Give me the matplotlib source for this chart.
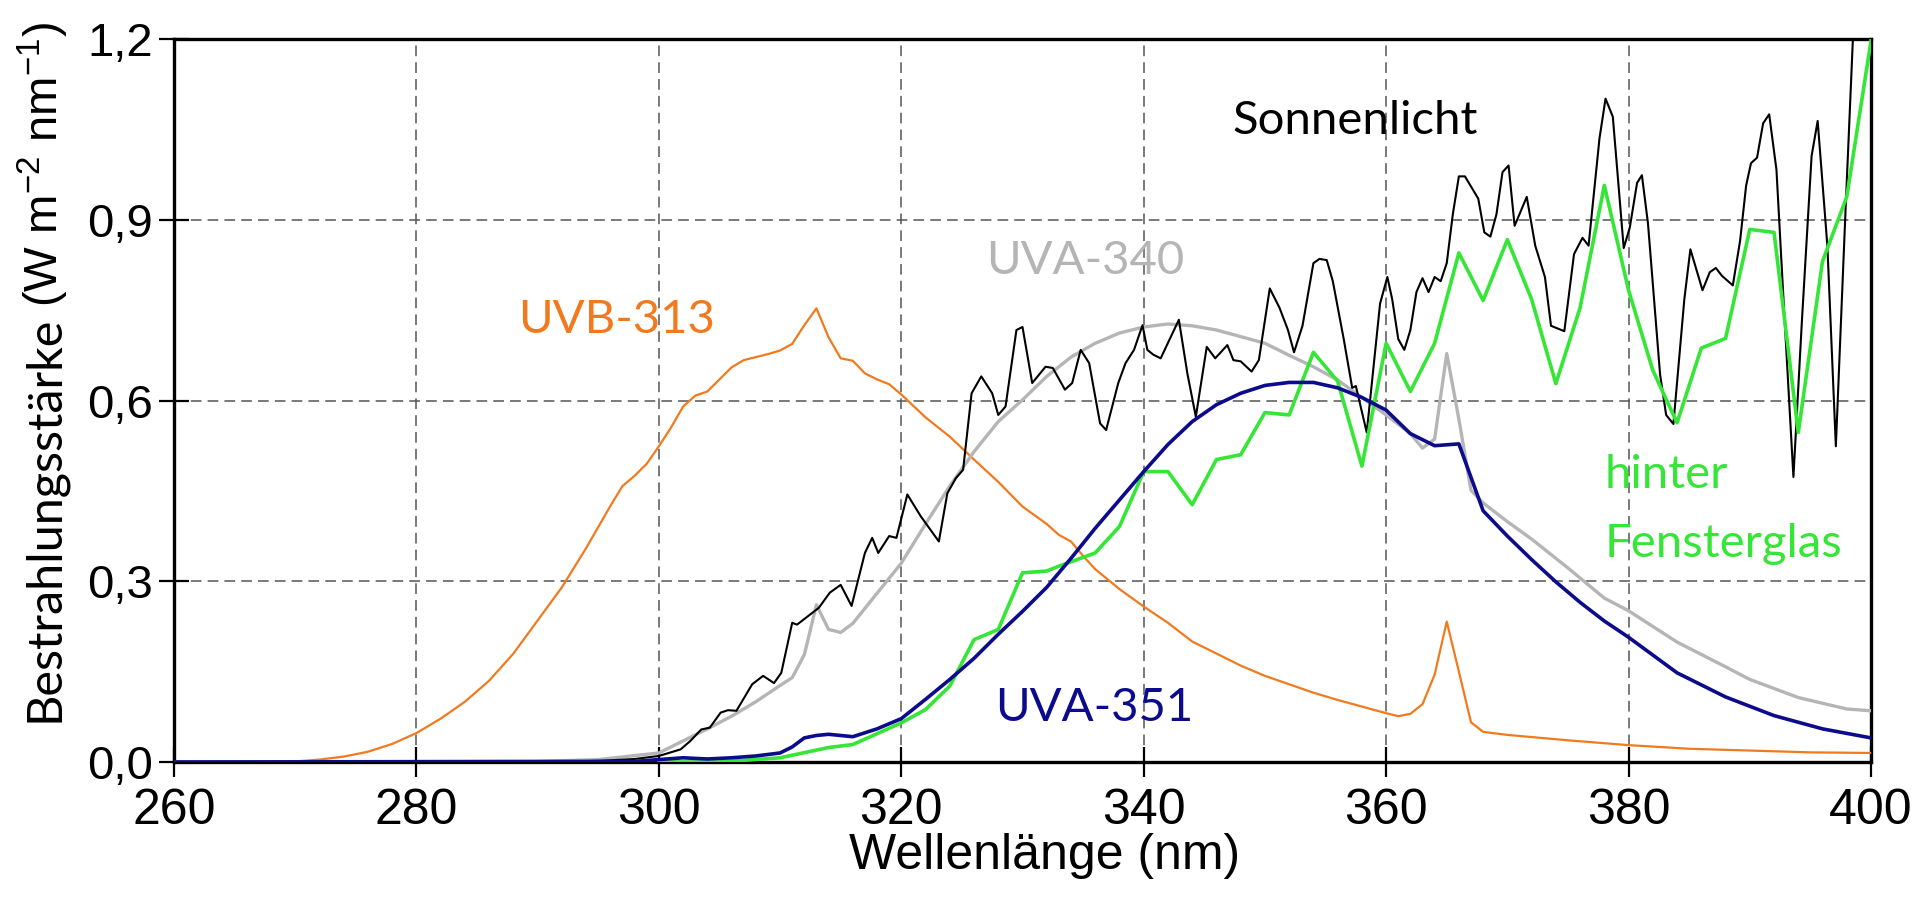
import numpy as np
import matplotlib
matplotlib.use("Agg")
import matplotlib.pyplot as plt

# Daten
uvb_x = [260, 268, 270, 272, 274, 276, 278, 280, 282, 284, 286, 288, 290, 292, 294, 296, 297, 298, 299, 300,
         301, 302, 303, 304, 305, 306, 307, 308, 309, 310, 311, 312, 313, 314, 315, 316, 317, 318, 319, 320,
         322, 324, 326, 328, 330, 332, 333, 334, 335, 336, 338, 340, 342, 344, 346, 348, 350, 352, 354, 356,
         358, 360, 361, 362, 363, 364, 365, 366, 367, 368, 370, 375, 380, 385, 390, 395, 400]
uvb_y = [0, 0, 0.001, 0.004, 0.009, 0.017, 0.03, 0.048, 0.072, 0.10, 0.135, 0.18, 0.235, 0.29, 0.355, 0.425, 0.458, 0.475, 0.495, 0.524,
         0.555, 0.59, 0.608, 0.615, 0.635, 0.655, 0.667, 0.672, 0.677, 0.683, 0.694, 0.725, 0.753, 0.705, 0.670, 0.666, 0.645, 0.635, 0.627, 0.61,
         0.572, 0.54, 0.502, 0.465, 0.424, 0.395, 0.377, 0.366, 0.342, 0.32, 0.287, 0.258, 0.231, 0.2, 0.18, 0.16, 0.143, 0.129, 0.115, 0.103,
         0.092, 0.081, 0.076, 0.080, 0.096, 0.145, 0.233, 0.15, 0.066, 0.05, 0.045, 0.036, 0.028, 0.022, 0.019, 0.016, 0.015]

uva340_x = [260, 290, 295, 300, 302, 304, 306, 308, 310, 311, 312, 313, 314, 315, 316, 318, 320, 322, 324, 326,
            328, 330, 332, 334, 336, 338, 340, 342, 344, 346, 348, 350, 352, 354, 356, 358, 360, 362, 363, 364,
            365, 366, 367, 368, 370, 372, 375, 378, 380, 384, 388, 390, 394, 398, 400]
uva340_y = [0, 0.001, 0.004, 0.015, 0.035, 0.055, 0.076, 0.10, 0.127, 0.14, 0.178, 0.261, 0.22, 0.215, 0.23, 0.28, 0.33, 0.395, 0.458, 0.515,
            0.565, 0.601, 0.64, 0.672, 0.695, 0.712, 0.722, 0.727, 0.724, 0.717, 0.706, 0.695, 0.675, 0.656, 0.634, 0.605, 0.576, 0.545, 0.521, 0.536,
            0.678, 0.569, 0.451, 0.43, 0.399, 0.37, 0.322, 0.272, 0.251, 0.199, 0.158, 0.137, 0.107, 0.088, 0.085]

uva351_x = [260, 298, 300, 302, 304, 306, 308, 310, 311, 312, 313, 314, 315, 316, 318, 320, 322, 324, 326, 328,
            330, 332, 334, 336, 338, 340, 342, 344, 346, 348, 350, 352, 354, 356, 358, 360, 362, 364, 366, 368,
            370, 372, 374, 376, 378, 380, 384, 388, 392, 396, 400]
uva351_y = [0, 0.001, 0.004, 0.007, 0.005, 0.007, 0.01, 0.015, 0.025, 0.04, 0.044, 0.046, 0.044, 0.042, 0.055, 0.072, 0.104, 0.137, 0.172, 0.212,
            0.25, 0.29, 0.338, 0.388, 0.435, 0.482, 0.527, 0.565, 0.593, 0.612, 0.625, 0.630, 0.630, 0.621, 0.605, 0.584, 0.545, 0.525, 0.528, 0.417,
            0.375, 0.336, 0.299, 0.265, 0.234, 0.207, 0.148, 0.108, 0.077, 0.055, 0.04]

glas_x = [300, 305, 310, 314, 316, 320, 322, 324, 326, 328, 330, 332, 333, 336, 338, 340, 342, 344, 346, 348,
          350, 352, 354, 356, 358, 360, 362, 364, 366, 368, 370, 372, 374, 376, 378, 380, 382, 384, 386, 388,
          390, 392, 394, 396, 398, 400]
glas_y = [0, 0.0, 0.007, 0.024, 0.029, 0.065, 0.087, 0.126, 0.203, 0.22, 0.314, 0.317, 0.325, 0.347, 0.391, 0.482, 0.482, 0.427, 0.502, 0.51,
          0.58, 0.576, 0.68, 0.632, 0.491, 0.695, 0.615, 0.695, 0.845, 0.766, 0.867, 0.768, 0.628, 0.754, 0.957, 0.783, 0.65, 0.563, 0.687, 0.703,
          0.884, 0.879, 0.547, 0.831, 0.938, 1.197]

sonne_x = [260, 290, 295.2, 298, 300, 301.8, 302.6, 303.5, 304.2, 305.1, 305.7, 306.4, 307.7, 308.6, 309.5, 310.1, 311.0, 311.4, 312.3, 313.2,
           314.1, 315.0, 315.9, 317.0, 317.6, 318.1, 319.0, 319.6, 320.5, 321.6, 323.1, 323.8, 324.5, 325.1, 325.8, 326.6, 327.5, 328.0, 328.6, 329.5,
           330.0, 330.8, 331.9, 332.5, 333.5, 334.1, 334.8, 335.5, 336.4, 336.9, 337.9, 338.5, 339.2, 339.9, 340.3, 340.8, 341.4, 342.9, 343.6, 344.3,
           345.2, 345.9, 346.9, 347.4, 348.0, 348.9, 349.5, 350.4, 351.2, 351.9, 352.4, 353.1, 354.0, 354.5, 355.1, 355.6, 356.5, 357.2, 357.5, 358.4,
           359.5, 360.1, 360.5, 361.0, 361.5, 362.0, 362.5, 363.0, 363.5, 364.0, 364.5, 365.0, 365.5, 366.0, 366.5, 367.6, 368.1, 368.6, 369.1, 369.6,
           370.1, 370.6, 371.6, 372.3, 373.1, 373.6, 374.7, 375.5, 376.2, 376.7, 377.6, 378.1, 378.7, 379.6, 380.1, 380.7, 381.1, 381.6, 382.6, 383.1,
           383.7, 384.6, 385.1, 386.1, 386.7, 387.2, 387.7, 388.6, 389.2, 389.7, 390.1, 390.6, 391.1, 391.6, 392.2, 392.9, 393.6, 394.3, 395.1, 395.6,
           396.4, 397.1, 397.9, 398.5, 399.0, 400]
sonne_y = [0, 0.0, 0.002, 0.005, 0.010, 0.021, 0.035, 0.054, 0.057, 0.082, 0.086, 0.085, 0.129, 0.143, 0.131, 0.148, 0.231, 0.228, 0.242, 0.256,
           0.281, 0.294, 0.259, 0.347, 0.372, 0.347, 0.375, 0.372, 0.444, 0.408, 0.366, 0.446, 0.471, 0.485, 0.612, 0.640, 0.612, 0.576, 0.590, 0.717,
           0.722, 0.629, 0.656, 0.654, 0.618, 0.629, 0.684, 0.662, 0.562, 0.551, 0.629, 0.662, 0.684, 0.725, 0.684, 0.676, 0.670, 0.734, 0.645, 0.573,
           0.689, 0.670, 0.692, 0.667, 0.665, 0.648, 0.667, 0.786, 0.754, 0.717, 0.680, 0.724, 0.828, 0.835, 0.833, 0.798, 0.702, 0.621, 0.624, 0.547,
           0.761, 0.805, 0.768, 0.702, 0.684, 0.717, 0.780, 0.803, 0.780, 0.805, 0.798, 0.828, 0.909, 0.972, 0.972, 0.935, 0.879, 0.872, 0.909, 0.979,
           0.990, 0.890, 0.938, 0.857, 0.805, 0.724, 0.715, 0.843, 0.870, 0.857, 1.035, 1.101, 1.071, 0.853, 0.887, 0.961, 0.974, 0.894, 0.643, 0.576,
           0.561, 0.768, 0.851, 0.783, 0.813, 0.820, 0.807, 0.791, 0.865, 0.957, 0.994, 1.003, 1.060, 1.075, 0.983, 0.724, 0.473, 0.732, 1.006, 1.064,
           0.857, 0.524, 0.916, 1.197, 1.35, 1.5]

xticks = [260, 280, 300, 320, 340, 360, 380, 400]
yticks = [0.0, 0.3, 0.6, 0.9, 1.2]
ytick_labels = ["0,0", "0,3", "0,6", "0,9", "1,2"]

c_orange = "#f27a1e"
c_grey = "#b5b5b5"
c_navy = "#0b0b8c"
c_green = "#36e636"

# Plot
fig = plt.figure(figsize=(19.2, 9.02), dpi=100)
ax = fig.add_axes([174 / 1920, 1 - 762 / 902, 1697 / 1920, 723 / 902])

ax.plot(uvb_x, uvb_y, color=c_orange, lw=1.6, zorder=3)
ax.plot(uva340_x, uva340_y, color=c_grey, lw=2.4, zorder=4)
ax.plot(sonne_x, sonne_y, color="black", lw=1.5, zorder=5)
ax.plot(glas_x, glas_y, color=c_green, lw=2.6, zorder=6)
ax.plot(uva351_x, uva351_y, color=c_navy, lw=2.6, zorder=7)

ax.set_xlim(260, 400)
ax.set_ylim(0, 1.2)
ax.set_xticks(xticks)
ax.set_yticks(yticks)
ax.set_yticklabels(ytick_labels)

ax.grid(True, color="#555555", lw=1.1, linestyle=(0, (7, 4)))
ax.set_axisbelow(True)
for sp in ax.spines.values():
    sp.set_linewidth(2.4)

ax.tick_params(axis="both", direction="inout", length=22, width=1.6)
ax.tick_params(axis="x", labelsize=36, pad=8)
ax.tick_params(axis="y", labelsize=34, pad=4)
for lab in ax.get_xticklabels() + ax.get_yticklabels():
    lab.set_family("Liberation Sans")

ax.set_xlabel("Wellenlänge (nm)", fontsize=36, family="Liberation Sans")
ax.xaxis.set_label_coords(0.513, -0.098)

# y-Beschriftung in zwei Teilen (zwei Schriften wie im Original)
ylab_x = 58 / 1920
fig.text(ylab_x, 1 - 722 / 902, "Bestrahlungsstärke", family="Lato", fontsize=35,
         rotation=90, rotation_mode="anchor", ha="left", va="baseline")
fig.text(ylab_x, 1 - 22 / 902, "(W m$^{\\mathregular{-2}}$ nm$^{\\mathregular{-1}}$)",
         family="Liberation Sans", fontsize=34,
         rotation=90, rotation_mode="anchor", ha="right", va="baseline")

lab_font = dict(family="Lato", fontsize=34)
ax.text(357.4, 1.043, "Sonnenlicht", color="black", ha="center", va="baseline", **lab_font)
ax.text(335.2, 0.810, "UVA-340", color=c_grey, ha="center", va="baseline", **lab_font)
ax.text(304.6, 0.712, "UVB-313", color=c_orange, ha="right", va="baseline", **lab_font)
ax.text(335.9, 0.068, "UVA-351", color=c_navy, ha="center", va="baseline", **lab_font)
ax.text(378.0, 0.455, "hinter", color=c_green, ha="left", va="baseline", **lab_font)
ax.text(378.0, 0.341, "Fensterglas", color=c_green, ha="left", va="baseline", **lab_font)

fig.savefig("out.png", dpi=100)
